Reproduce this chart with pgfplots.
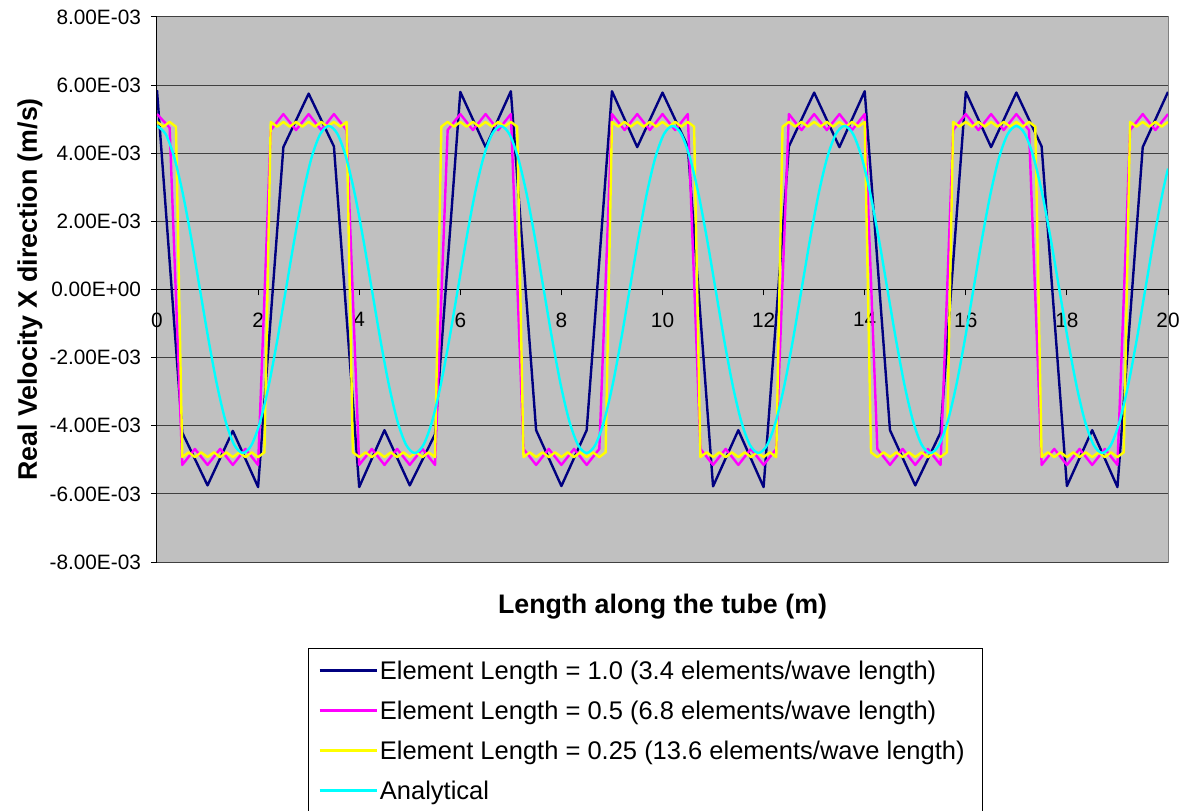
\documentclass[border=0pt]{standalone}
\usepackage{pgfplots}
\usepackage{pgfplotstable}
\pgfplotsset{compat=1.18}
\usepackage{fontspec}
\setmainfont{Liberation Sans}
\definecolor{plotbg}{RGB}{192,192,192}
\definecolor{sNavy}{RGB}{0,0,128}
\definecolor{sMag}{RGB}{255,0,255}
\definecolor{sYel}{RGB}{255,255,0}
\definecolor{sCyan}{RGB}{0,255,255}

% Element length 1.0 (values in 1E-03 m/s)
\pgfplotstableread{
x y
0 5.85
0.5 -4.2
1 -5.75
1.5 -4.15
2 -5.8
2.5 4.18
3 5.75
3.5 4.2
4 -5.8
4.5 -4.13
5 -5.75
5.5 -4.25
6 5.8
6.5 4.18
7 5.82
7.5 -4.13
8 -5.77
8.5 -4.13
9 5.82
9.5 4.18
10 5.78
10.5 4.2
11 -5.78
11.5 -4.13
12 -5.8
12.5 4.2
13 5.78
13.5 4.18
14 5.82
14.5 -4.13
15 -5.75
15.5 -4.2
16 5.8
16.5 4.18
17 5.78
17.5 4.2
18 -5.77
18.5 -4.13
19 -5.8
19.5 4.18
20 5.8
}\dataA

% Element length 0.5
\pgfplotstableread{
x y
0 5.15
0.25 4.75
0.5 -5.15
0.75 -4.68
1 -5.15
1.25 -4.68
1.5 -5.15
1.75 -4.68
2 -5.15
2.25 4.68
2.5 5.15
2.75 4.68
3 5.15
3.25 4.68
3.5 5.15
3.75 4.68
4 -5.15
4.25 -4.68
4.5 -5.15
4.75 -4.68
5 -5.15
5.25 -4.68
5.5 -5.15
5.75 4.68
6 5.15
6.25 4.68
6.5 5.15
6.75 4.68
7 5.15
7.25 -4.68
7.5 -5.15
7.75 -4.68
8 -5.15
8.25 -4.68
8.5 -5.15
8.75 -4.68
9 5.15
9.25 4.68
9.5 5.15
9.75 4.68
10 5.15
10.25 4.68
10.5 5.15
10.75 -4.68
11 -5.15
11.25 -4.68
11.5 -5.15
11.75 -4.68
12 -5.15
12.25 -4.68
12.5 5.15
12.75 4.68
13 5.15
13.25 4.68
13.5 5.15
13.75 4.68
14 5.15
14.25 -4.68
14.5 -5.15
14.75 -4.68
15 -5.15
15.25 -4.68
15.5 -5.15
15.75 4.68
16 5.15
16.25 4.68
16.5 5.15
16.75 4.68
17 5.15
17.25 4.68
17.5 -5.15
17.75 -4.68
18 -5.15
18.25 -4.68
18.5 -5.15
18.75 -4.68
19 -5.15
19.25 4.68
19.5 5.15
19.75 4.68
20 5.15
}\dataB

% Element length 0.25
\pgfplotstableread{
x y
0 4.92
0.125 4.78
0.25 4.92
0.375 4.78
0.5 -4.92
0.625 -4.78
0.75 -4.92
0.875 -4.78
1 -4.92
1.125 -4.78
1.25 -4.92
1.375 -4.78
1.5 -4.92
1.625 -4.78
1.75 -4.92
1.875 -4.78
2 -4.92
2.125 -4.78
2.25 4.92
2.375 4.78
2.5 4.92
2.625 4.78
2.75 4.92
2.875 4.78
3 4.92
3.125 4.78
3.25 4.92
3.375 4.78
3.5 4.92
3.625 4.78
3.75 4.92
3.875 -4.78
4 -4.92
4.125 -4.78
4.25 -4.92
4.375 -4.78
4.5 -4.92
4.625 -4.78
4.75 -4.92
4.875 -4.78
5 -4.92
5.125 -4.78
5.25 -4.92
5.375 -4.78
5.5 -4.92
5.625 4.78
5.75 4.92
5.875 4.78
6 4.92
6.125 4.78
6.25 4.92
6.375 4.78
6.5 4.92
6.625 4.78
6.75 4.92
6.875 4.78
7 4.92
7.125 4.78
7.25 -4.92
7.375 -4.78
7.5 -4.92
7.625 -4.78
7.75 -4.92
7.875 -4.78
8 -4.92
8.125 -4.78
8.25 -4.92
8.375 -4.78
8.5 -4.92
8.625 -4.78
8.75 -4.92
8.875 -4.78
9 4.92
9.125 4.78
9.25 4.92
9.375 4.78
9.5 4.92
9.625 4.78
9.75 4.92
9.875 4.78
10 4.92
10.125 4.78
10.25 4.92
10.375 4.78
10.5 4.92
10.625 4.78
10.75 -4.92
10.875 -4.78
11 -4.92
11.125 -4.78
11.25 -4.92
11.375 -4.78
11.5 -4.92
11.625 -4.78
11.75 -4.92
11.875 -4.78
12 -4.92
12.125 -4.78
12.25 -4.92
12.375 4.78
12.5 4.92
12.625 4.78
12.75 4.92
12.875 4.78
13 4.92
13.125 4.78
13.25 4.92
13.375 4.78
13.5 4.92
13.625 4.78
13.75 4.92
13.875 4.78
14 4.92
14.125 -4.78
14.25 -4.92
14.375 -4.78
14.5 -4.92
14.625 -4.78
14.75 -4.92
14.875 -4.78
15 -4.92
15.125 -4.78
15.25 -4.92
15.375 -4.78
15.5 -4.92
15.625 -4.78
15.75 4.92
15.875 4.78
16 4.92
16.125 4.78
16.25 4.92
16.375 4.78
16.5 4.92
16.625 4.78
16.75 4.92
16.875 4.78
17 4.92
17.125 4.78
17.25 4.92
17.375 4.78
17.5 -4.92
17.625 -4.78
17.75 -4.92
17.875 -4.78
18 -4.92
18.125 -4.78
18.25 -4.92
18.375 -4.78
18.5 -4.92
18.625 -4.78
18.75 -4.92
18.875 -4.78
19 -4.92
19.125 -4.78
19.25 4.92
19.375 4.78
19.5 4.92
19.625 4.78
19.75 4.92
19.875 4.78
20 4.92
}\dataC

% Analytical
\pgfplotstableread{
x y
0.00 4.800
0.17 4.565
0.34 3.883
0.51 2.821
0.68 1.483
0.85 0
1.02 -1.483
1.19 -2.821
1.36 -3.883
1.53 -4.565
1.70 -4.800
1.87 -4.565
2.04 -3.883
2.21 -2.821
2.38 -1.483
2.55 0
2.72 1.483
2.89 2.821
3.06 3.883
3.23 4.565
3.40 4.800
3.57 4.565
3.74 3.883
3.91 2.821
4.08 1.483
4.25 0
4.42 -1.483
4.59 -2.821
4.76 -3.883
4.93 -4.565
5.10 -4.800
5.27 -4.565
5.44 -3.883
5.61 -2.821
5.78 -1.483
5.95 0
6.12 1.483
6.29 2.821
6.46 3.883
6.63 4.565
6.80 4.800
6.97 4.565
7.14 3.883
7.31 2.821
7.48 1.483
7.65 0
7.82 -1.483
7.99 -2.821
8.16 -3.883
8.33 -4.565
8.50 -4.800
8.67 -4.565
8.84 -3.883
9.01 -2.821
9.18 -1.483
9.35 0
9.52 1.483
9.69 2.821
9.86 3.883
10.03 4.565
10.20 4.800
10.37 4.565
10.54 3.883
10.71 2.821
10.88 1.483
11.05 0
11.22 -1.483
11.39 -2.821
11.56 -3.883
11.73 -4.565
11.90 -4.800
12.07 -4.565
12.24 -3.883
12.41 -2.821
12.58 -1.483
12.75 0
12.92 1.483
13.09 2.821
13.26 3.883
13.43 4.565
13.60 4.800
13.77 4.565
13.94 3.883
14.11 2.821
14.28 1.483
14.45 0
14.62 -1.483
14.79 -2.821
14.96 -3.883
15.13 -4.565
15.30 -4.800
15.47 -4.565
15.64 -3.883
15.81 -2.821
15.98 -1.483
16.15 0
16.32 1.483
16.49 2.821
16.66 3.883
16.83 4.565
17.00 4.800
17.17 4.565
17.34 3.883
17.51 2.821
17.68 1.483
17.85 0
18.02 -1.483
18.19 -2.821
18.36 -3.883
18.53 -4.565
18.70 -4.800
18.87 -4.565
19.04 -3.883
19.21 -2.821
19.38 -1.483
19.55 0
19.72 1.483
19.89 2.821
20.00 3.55
}\dataD

\begin{document}
\begin{tikzpicture}
\begin{axis}[
  scale only axis,
  width=505.5pt, height=272.5pt,
  xmin=0, xmax=20, ymin=-8, ymax=8,
  axis x line=middle, axis y line=left,
  axis line style={-, black, line width=0.5pt},
  every inner x axis line/.append style={-},
  every outer y axis line/.append style={-},
  axis background/.style={fill=plotbg, draw=black!50, line width=0.5pt},
  xtick={0,2,4,6,8,10,12,14,16,18,20},
  xticklabels={0,2,4,6,8,10,12,14,16,18,20},
  ytick={-8,-6,-4,-2,0,2,4,6,8},
  yticklabels={-8.00E-03,-6.00E-03,-4.00E-03,-2.00E-03,0.00E+00,2.00E-03,4.00E-03,6.00E-03,8.00E-03},
  hide obscured x ticks=false,
  hide obscured y ticks=false,
  ymajorgrids,
  grid style={black!75, line width=0.5pt},
  tick align=outside,
  major tick length=3pt,
  tick style={black, line width=0.5pt},
  x tick label style={font=\fontsize{10.4}{12}\selectfont, anchor=north, yshift=-5pt},
  y tick label style={font=\fontsize{10.4}{12}\selectfont, anchor=east, xshift=-1.5pt},
  every axis x label/.style={at={(axis description cs:0.5,-0.0826)}, anchor=center, font=\bfseries\fontsize{13.4}{16}\selectfont},
  every axis y label/.style={at={(axis description cs:-0.1256,0.5)}, anchor=center, rotate=90, font=\bfseries\fontsize{13.4}{16}\selectfont},
  xlabel={Length along the tube (m)},
  ylabel={Real Velocity X direction (m/s)},
  legend style={
    at={(axis description cs:0.14936,-0.1578)}, anchor=north west,
    draw=black, line width=0.5pt, fill=white,
    inner xsep=5pt, inner ysep=1pt, row sep=0pt,
    font=\fontsize{12.75}{15}\selectfont,
    nodes={inner xsep=0pt, inner ysep=0pt, text height=14.5pt, text depth=5.5pt},
    /tikz/every odd column/.append style={column sep=1pt},
  },
  legend cell align=left,
  legend image code/.code={\draw[#1] (0pt,0pt) -- (28.5pt,0pt);},
  every axis plot/.append style={line width=1.2pt, line join=round},
  clip=true,
]
\addplot[sNavy] table {\dataA};
\addlegendentry{Element Length = 1.0 (3.4 elements/wave length)}
\addplot[sMag] table {\dataB};
\addlegendentry{Element Length = 0.5 (6.8 elements/wave length)}
\addplot[sYel] table {\dataC};
\addlegendentry{Element Length = 0.25 (13.6 elements/wave length)\hspace*{4pt}}
\addplot[sCyan, smooth] table {\dataD};
\addlegendentry{Analytical}
\end{axis}
\pgfresetboundingbox
\path (-78.5pt,-124pt) rectangle (515pt,281pt);
\end{tikzpicture}
\end{document}
